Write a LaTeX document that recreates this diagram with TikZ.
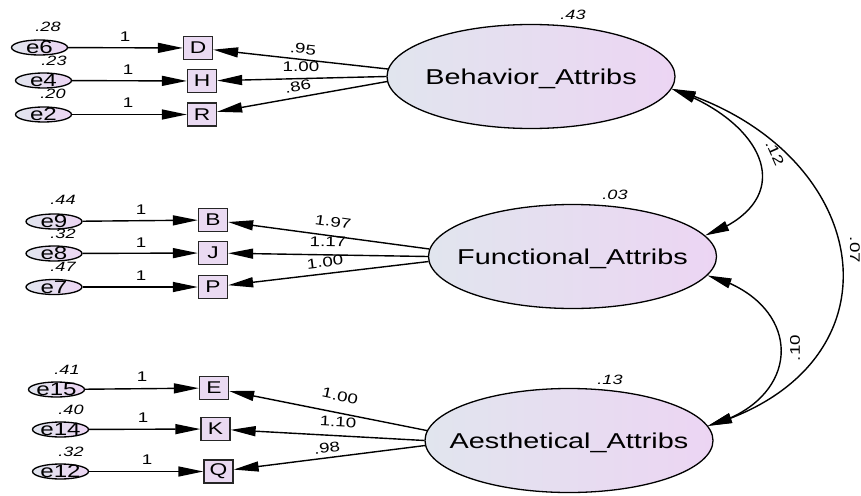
\documentclass[tikz,border=0pt]{standalone}
\usepackage{fontspec}
\setmainfont[FakeStretch=1.34]{Liberation Sans}
\usetikzlibrary{arrows.meta,bending,shapes.geometric}

\definecolor{shadeL}{RGB}{225,229,238}
\definecolor{shadeR}{RGB}{236,213,243}
\definecolor{boxfill}{RGB}{234,218,242}

% centre a label on the node without letting it widen the shape
\newcommand{\midtext}[1]{\makebox[0pt]{\raisebox{-.36em}[0pt][0pt]{#1}}}

\begin{document}
\begin{tikzpicture}[x=1pt,y=-1pt,
  every node/.style={inner sep=0pt},
  latent/.style={ellipse, draw, line width=1.3pt, left color=shadeL, right color=shadeR,
    minimum width=288pt, minimum height=104pt, font=\fontsize{21.5}{24}\selectfont},
  err/.style={ellipse, draw, line width=1.3pt, left color=shadeL, right color=shadeR,
    minimum width=56pt, minimum height=15pt, font=\fontsize{18}{20}\selectfont},
  obs/.style={rectangle, draw=black!85, line width=1.3pt, fill=boxfill,
    minimum width=29pt, minimum height=23pt, font=\fontsize{17}{19}\selectfont},
  est/.style={font=\fontsize{14}{16}\selectfont},
  var/.style={font=\fontsize{13.5}{15}\selectfont\itshape},
  link/.style={line width=1.4pt, -{Triangle[length=25pt,width=10pt]}},
  cov/.style={line width=1.4pt, {Triangle[length=24pt,width=10pt]}-{Triangle[length=24pt,width=10pt]}}
]
\useasboundingbox (0,0) rectangle (861,495);

% latent factors
\node[latent] (bh) at (531,76.5)  {\midtext{Behavior\_Attribs}};
\node[latent] (fa) at (572.5,256.5) {\midtext{Functional\_Attribs}};
\node[latent] (ae) at (569,440.5) {\midtext{Aesthetical\_Attribs}};

% observed indicators
\node[obs] (D) at (198,48)    {D};
\node[obs] (H) at (202,81)    {H};
\node[obs] (R) at (202,114.5) {R};
\node[obs] (B) at (213,220)   {B};
\node[obs] (J) at (213,253)   {J};
\node[obs] (P) at (213,287)   {P};
\node[obs] (E) at (214,388)   {E};
\node[obs] (K) at (215.5,429) {K};
\node[obs] (Q) at (218.5,471.5) {Q};

% error terms
\node[err] (e6)  at (39.5,47.5)  {\midtext{e6}};
\node[err] (e4)  at (43.5,80.5)  {\midtext{e4}};
\node[err] (e2)  at (43.5,114.5) {\midtext{e2}};
\node[err] (e9)  at (54,221.5)   {\midtext{e9}};
\node[err] (e8)  at (54,253.5)   {\midtext{e8}};
\node[err] (e7)  at (54,287)     {\midtext{e7}};
\node[err] (e15) at (56.5,389.5) {\midtext{e15}};
\node[err] (e14) at (60.5,429.5) {\midtext{e14}};
\node[err] (e12) at (60.5,471.5) {\midtext{e12}};

% error paths fixed to 1
\draw[link] (e6) -- (D);
\draw[link] (e4) -- (H);
\draw[link] (e2) -- (R);
\draw[link] (e9) -- (B);
\draw[link] (e8) -- (J);
\draw[link] (e7) -- (P);
\draw[link] (e15) -- (E);
\draw[link] (e14) -- (K);
\draw[link] (e12) -- (Q);

% factor loadings
\draw[link] (bh.177) -- (D);
\draw[link] (bh.180) -- (H);
\draw[link] (bh.182) -- (R);
\draw[link] (fa.177) -- (B);
\draw[link] (fa.180) -- (J);
\draw[link] (fa.182.5) -- (P);
\draw[link] (ae.176) -- (E);
\draw[link] (ae.180) -- (K);
\draw[link] (ae.182) -- (Q);

% factor covariances
\draw[cov] (bh.-5) .. controls +(96,34) and +(96,-34) .. (fa.9);
\draw[cov] (fa.-8) .. controls +(98,26) and +(98,-26) .. (ae.6);
\draw[cov] (bh.-5) .. controls +(203,60) and +(203,-60) .. (ae.6);

% variances
\node[var] (v6)  at (48,27)   {.28};
\node[var] (v4)  at (54,61)   {.23};
\node[var] (v2)  at (53,94)   {.20};
\node[var] (v9)  at (63,200)  {.44};
\node[var] (v8)  at (63,234)  {.32};
\node[var] (v7)  at (63,267)  {.47};
\node[var] (v15) at (67,370)  {.41};
\node[var] (v14) at (71,410)  {.40};
\node[var] (v12) at (71,452)  {.32};
\node[var] (vbh) at (573,15)  {.43};
\node[var] (vfa) at (615,195) {.03};
\node[var] (vae) at (610,380) {.13};

% fixed weights
\node[est] (w6)  at (125,37)  {1};
\node[est] (w4)  at (128,70)  {1};
\node[est] (w2)  at (128,103) {1};
\node[est] (w9)  at (141,210) {1};
\node[est] (w8)  at (141,243) {1};
\node[est] (w7)  at (141,276) {1};
\node[est] (w15) at (142,377) {1};
\node[est] (w14) at (143,418) {1};
\node[est] (w12) at (147,460) {1};

% loading estimates
\node[est, rotate=-6] (lD) at (303,49)  {.95};
\node[est]            (lH) at (301,67)  {1.00};
\node[est, rotate=10] (lR) at (298,86)  {.86};
\node[est, rotate=-8] (lB) at (333,222) {1.97};
\node[est, rotate=-1] (lJ) at (328,242) {1.17};
\node[est, rotate=7]  (lP) at (325,262) {1.00};
\node[est, rotate=-12] (lE) at (340,396) {1.00};
\node[est, rotate=-3] (lK) at (338,422) {1.10};
\node[est, rotate=7]  (lQ) at (327,448) {.98};

% covariance estimates
\node[est, rotate=-66] (c1) at (775,153) {.12};
\node[est, rotate=-90] (c2) at (855,250) {.07};
\node[est, rotate=90]  (c3) at (795,348) {.10};
\end{tikzpicture}
\end{document}
